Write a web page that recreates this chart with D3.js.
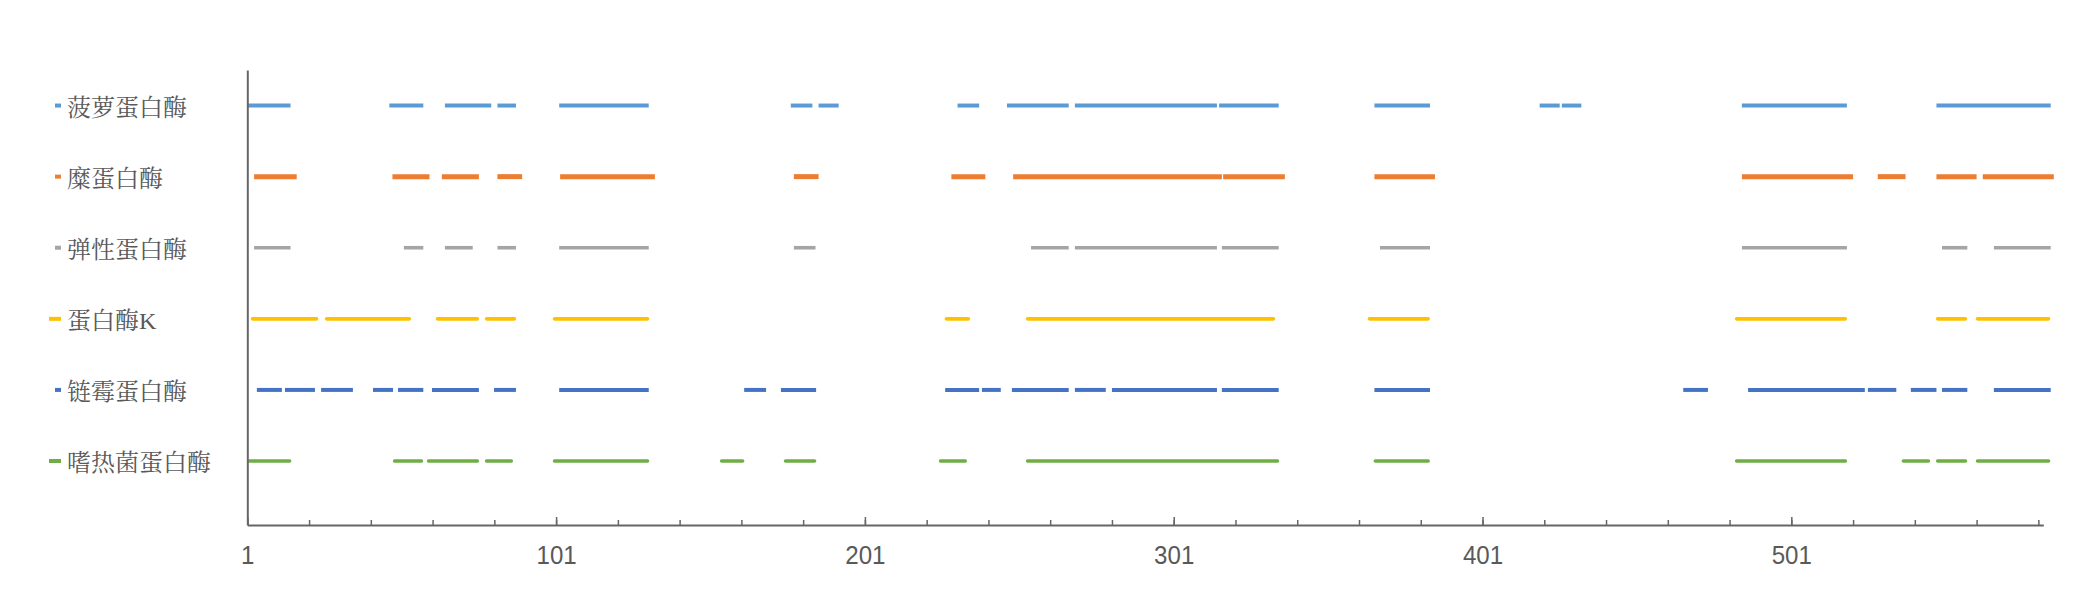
<!DOCTYPE html>
<html>
<head>
<meta charset="utf-8">
<script src="https://cdn.jsdelivr.net/npm/d3@7"></script>
<style>
  html, body { margin: 0; padding: 0; background: #ffffff; }
  svg { display: block; }
</style>
</head>
<body>
<svg id="chart" width="2086" height="604"></svg>
<script>
// ---------------- DATA ----------------
const categories = ["菠萝蛋白酶", "糜蛋白酶", "弹性蛋白酶", "蛋白酶K", "链霉蛋白酶", "嗜热菌蛋白酶"];
const rowValues = [6, 5, 4, 3, 2, 1];
const xTickLabels = ["1", "101", "201", "301", "401", "501"];
const xMinorTicks = [1, 21, 41, 61, 81, 101, 121, 141, 161, 181, 201, 221, 241, 261, 281, 301, 321, 341, 361, 381, 401, 421, 441, 461, 481, 501, 521, 541, 561, 581];

// covered ranges (start, end) along the sequence position axis
const seriesBromelain = [[1, 15], [47, 58], [65, 80], [82, 88], [102, 131], [177, 184], [186, 192.5], [231, 238], [247, 267], [269, 315], [315.7, 335], [366, 384], [419.5, 426], [426.7, 433], [485, 519], [548, 585]];
const seriesChymotrypsin = [[3.2, 17], [48, 60], [64, 76], [82, 90], [102.3, 133], [178, 186], [229, 240], [249, 316.6], [317, 337], [366, 385.6], [485, 521], [529, 538], [548, 561], [563, 586]];
const seriesElastase = [[3.2, 15], [51.7, 58], [65, 74], [82, 88], [102, 131], [178, 185], [254.8, 267], [269, 315], [316.6, 335], [367.8, 384], [485, 519], [549.8, 558], [566.6, 585]];
const seriesProteinaseK = [[2.7, 23.4], [26.7, 53.5], [62.6, 75.5], [78.5, 87.5], [100.5, 130.6], [227.4, 234.5], [253.7, 333.3], [364.4, 383.4], [483.3, 518.5], [548.4, 557.4], [561.3, 584.3]];
const seriesPronase = [[4.1, 12.2], [13.2, 22.9], [24.9, 35.2], [41.7, 48.2], [49.8, 58], [60.8, 76], [80.9, 88], [102, 131], [161.9, 169], [173.8, 185.2], [227, 238], [238.9, 245], [248.6, 267], [269, 279], [281, 315], [316.6, 335], [366, 384], [466, 474], [487, 524.8], [525.8, 535], [539.7, 548], [549.8, 558], [566.6, 585]];
const seriesThermolysin = [[1.5, 14.7], [48.7, 57.4], [59.7, 75.5], [78.5, 86.5], [100.5, 130.6], [154.6, 161.4], [175.3, 184.7], [225.5, 233.5], [253.7, 334.6], [366.3, 383.4], [483.3, 518.5], [537.3, 545.4], [548.4, 557.4], [561.3, 584.3]];

const seriesData = [seriesBromelain, seriesChymotrypsin, seriesElastase, seriesProteinaseK, seriesPronase, seriesThermolysin];

// ---------------- STYLE ----------------
const colors = ["#5B9BD5", "#ED7D31", "#A5A5A5", "#FFC000", "#4472C4", "#70AD47"];
const widths = [4, 5, 3.6, 3.6, 4, 3.6];
const caps = ["butt", "butt", "butt", "round", "butt", "round"];
const keyStart = [55, 55, 55, 49, 55, 49];
const textColor = "#595959";
const axisColor = "#666666";

// ---------------- DRAW ----------------
const svg = d3.select("#chart");

const x = d3.scaleLinear().domain([1, 582.6]).range([247.3, 2043.3]);
const y = d3.scaleLinear().domain([0.1, 6.5]).range([525, 70]);

// plot segments
const line = d3.line().x(d => x(d)).y(0);
categories.forEach((name, i) => {
  const g = svg.append("g").attr("transform", `translate(0,${y(rowValues[i])})`);
  g.selectAll("path")
    .data(seriesData[i])
    .join("path")
    .attr("d", d => line(d))
    .attr("fill", "none")
    .attr("stroke", colors[i])
    .attr("stroke-width", widths[i])
    .attr("stroke-linecap", caps[i]);
});

// y axis (vertical line only)
const yAxis = svg.append("g")
  .attr("transform", `translate(${x(1)},0)`)
  .call(d3.axisLeft(y).tickValues([]).tickSizeOuter(0));
yAxis.select(".domain").attr("stroke", axisColor).attr("stroke-width", 2);

// x axis minor ticks
const xMinor = svg.append("g")
  .attr("transform", `translate(0,${y.range()[0]})`)
  .call(d3.axisBottom(x).tickValues(xMinorTicks).tickSize(-5).tickSizeOuter(0).tickFormat(""));
xMinor.select(".domain").attr("stroke", axisColor).attr("stroke-width", 2);
xMinor.selectAll(".tick line").attr("stroke", axisColor).attr("stroke-width", 1.5);

// x axis major ticks with labels
const majorVals = xTickLabels.map(Number);
const xMajor = svg.append("g")
  .attr("transform", `translate(0,${y.range()[0]})`)
  .call(d3.axisBottom(x).tickValues(majorVals).tickSize(-8).tickSizeOuter(0).tickPadding(21)
    .tickFormat((d, i) => xTickLabels[i]));
xMajor.select(".domain").remove();
xMajor.selectAll(".tick line").attr("stroke", axisColor).attr("stroke-width", 1.5);
xMajor.selectAll(".tick text")
  .attr("fill", textColor)
  .attr("textLength", (d, i) => xTickLabels[i].length * 13.4)
  .attr("lengthAdjust", "spacingAndGlyphs")
  .style("font-family", "'Liberation Sans', Arial, sans-serif")
  .style("font-size", "26px");

// category labels with legend keys on the left
const labels = svg.append("g");
categories.forEach((name, i) => {
  const yy = y(rowValues[i]);
  labels.append("line")
    .attr("x1", keyStart[i]).attr("x2", 61)
    .attr("y1", yy).attr("y2", yy)
    .attr("stroke", colors[i])
    .attr("stroke-width", 4);
  labels.append("text")
    .attr("x", 67)
    .attr("y", yy + 2)
    .attr("dominant-baseline", "central")
    .attr("fill", textColor)
    .style("font-family", "'Liberation Serif', 'Noto Serif CJK SC', 'Noto Sans CJK SC', serif")
    .style("font-size", "24px")
    .text(name);
});
</script>
</body>
</html>
